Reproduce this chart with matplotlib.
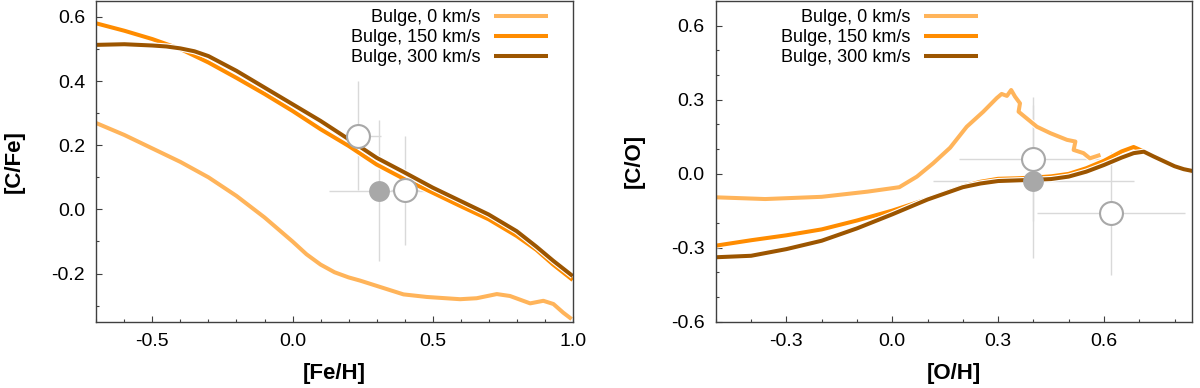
import matplotlib
matplotlib.use("Agg")
import matplotlib.pyplot as plt
import matplotlib.patheffects as pe
from matplotlib.ticker import MultipleLocator, FormatStrFormatter
from matplotlib import rcParams
rcParams['font.family'] = ['Liberation Sans', 'DejaVu Sans']

#================================================================================================#
## data: left panel, [C/Fe] vs [Fe/H]
feh_0 = [-0.70, -0.60, -0.50, -0.40, -0.30, -0.20, -0.10, 0.00, 0.05, 0.10, 0.15, 0.20, 0.241,
         0.313, 0.396, 0.479, 0.598, 0.657, 0.729, 0.776, 0.848, 0.895, 0.931, 0.966, 0.996]
cfe_0 = [0.269, 0.232, 0.190, 0.148, 0.100, 0.042, -0.025, -0.100, -0.140, -0.172, -0.196, -0.212,
         -0.222, -0.242, -0.265, -0.273, -0.280, -0.277, -0.264, -0.270, -0.293, -0.285, -0.295,
         -0.322, -0.342]

feh_150 = [-0.70, -0.60, -0.50, -0.40, -0.30, -0.20, -0.10, 0.00, 0.10, 0.20, 0.30, 0.40, 0.50,
           0.60, 0.70, 0.80, 0.87, 0.93, 1.00]
cfe_150 = [0.580, 0.557, 0.531, 0.500, 0.458, 0.410, 0.360, 0.307, 0.250, 0.198, 0.140, 0.094,
           0.052, 0.010, -0.031, -0.083, -0.126, -0.172, -0.220]

feh_300 = [-0.70, -0.60, -0.50, -0.45, -0.40, -0.35, -0.30, -0.20, -0.10, 0.00, 0.10, 0.20, 0.30,
           0.40, 0.50, 0.60, 0.70, 0.80, 0.87, 0.93, 1.00]
cfe_300 = [0.513, 0.515, 0.511, 0.508, 0.502, 0.493, 0.478, 0.432, 0.380, 0.328, 0.276, 0.219,
           0.161, 0.115, 0.068, 0.026, -0.016, -0.068, -0.116, -0.160, -0.208]

## observed stars, left panel
obs_feh = [0.232, 0.402]
obs_cfe = [0.229, 0.060]
obs_feh_err = [0.085, 0.05]
obs_cfe_err = [0.17, 0.17]
fill_feh = [0.310]
fill_cfe = [0.058]
fill_feh_err = [0.18]
fill_cfe_err = [0.22]

## data: right panel, [C/O] vs [O/H]
oh_0 = [-0.50, -0.36, -0.20, -0.07, 0.02, 0.07, 0.116, 0.164, 0.211, 0.258, 0.296, 0.310, 0.325,
        0.337, 0.348, 0.362, 0.358, 0.381, 0.410, 0.448, 0.495, 0.519, 0.514, 0.542, 0.560, 0.590]
co_0 = [-0.096, -0.103, -0.094, -0.073, -0.055, -0.012, 0.042, 0.105, 0.190, 0.251, 0.306, 0.323,
        0.315, 0.339, 0.312, 0.285, 0.251, 0.224, 0.190, 0.164, 0.137, 0.130, 0.096, 0.083, 0.062,
        0.076]

oh_150 = [-0.50, -0.40, -0.30, -0.20, -0.10, 0.00, 0.10, 0.20, 0.25, 0.30, 0.35, 0.40, 0.45, 0.50,
          0.55, 0.60, 0.65, 0.684, 0.703, 0.75, 0.80, 0.86]
co_150 = [-0.292, -0.270, -0.250, -0.226, -0.190, -0.150, -0.103, -0.052, -0.033, -0.021, -0.019,
          -0.016, -0.011, -0.001, 0.022, 0.052, 0.090, 0.108, 0.096, 0.065, 0.030, 0.003]

oh_300 = [-0.50, -0.40, -0.30, -0.20, -0.10, 0.00, 0.10, 0.20, 0.25, 0.30, 0.40, 0.45, 0.50, 0.55,
          0.60, 0.65, 0.684, 0.713, 0.74, 0.77, 0.80, 0.826, 0.86]
co_300 = [-0.339, -0.333, -0.306, -0.272, -0.222, -0.165, -0.105, -0.055, -0.040, -0.030, -0.025,
          -0.022, -0.012, 0.008, 0.035, 0.065, 0.083, 0.089, 0.070, 0.050, 0.030, 0.018, 0.008]

## observed stars, right panel
obs_oh = [0.40, 0.62]
obs_co = [0.060, -0.161]
obs_oh_err = [0.21, 0.21]
obs_co_err = [0.25, 0.25]
fill_oh = [0.40]
fill_co = [-0.030]
fill_oh_err = [0.284]
fill_co_err = [0.31]

labels = ["Bulge, 0 km/s", "Bulge, 150 km/s", "Bulge, 300 km/s"]
#================================================================================================#
## plot parameters
colors = ['#ffb45a', '#ff8c00', '#9c5500']
lw_curve = 2.9
err_color = '#d9d9d9'
circ_color = '#a8a8a8'
spine_color = '#404040'
fig_dpi = 100

#================================================================================================#
def style_axes(ax, xlim, ylim, xmaj, ymaj, xlabel, ylabel, ylabx):
    ax.set_xlim(*xlim)
    ax.set_ylim(*ylim)
    ax.xaxis.set_major_locator(MultipleLocator(xmaj))
    ax.xaxis.set_minor_locator(MultipleLocator(0.1))
    ax.yaxis.set_major_locator(MultipleLocator(ymaj))
    ax.yaxis.set_minor_locator(MultipleLocator(0.1))
    ax.xaxis.set_major_formatter(FormatStrFormatter('%.1f'))
    ax.yaxis.set_major_formatter(FormatStrFormatter('%.1f'))
    ax.tick_params(which='both', direction='in', top=False, right=False,
                   color=spine_color, width=0.8, labelsize=14, pad=8)
    ax.tick_params(which='major', length=4)
    ax.tick_params(which='minor', length=2.5)
    for s in ax.spines.values():
        s.set_color(spine_color)
        s.set_linewidth(1.0)
    ax.set_xlabel(xlabel, fontsize=16, fontweight='bold')
    ax.set_ylabel(ylabel, fontsize=16, fontweight='bold')
    ax.xaxis.set_label_coords(0.5, -0.129)
    ax.yaxis.set_label_coords(ylabx, 0.5)


def draw_panel(ax, curves, obs, fill, legx):
    stroke = [pe.Stroke(linewidth=lw_curve + 1.6, foreground='white'), pe.Normal()]
    # error bars first, under the curves
    ox, oy, oxe, oye = obs
    fx, fy, fxe, fye = fill
    ax.errorbar(ox, oy, xerr=oxe, yerr=oye, fmt='none', ecolor=err_color, elinewidth=1.0,
                capsize=0, zorder=1)
    ax.errorbar(fx, fy, xerr=fxe, yerr=fye, fmt='none', ecolor=err_color, elinewidth=1.0,
                capsize=0, zorder=1)
    for (x, y), c, lab in zip(curves, colors, labels):
        ax.plot(x, y, color=c, lw=lw_curve, label=lab, path_effects=stroke,
                solid_capstyle='butt', solid_joinstyle='round', zorder=2)
    ax.plot(fx, fy, 'o', ms=15, mfc=circ_color, mec='none', zorder=5)
    ax.plot(ox, oy, 'o', ms=16.5, mfc='white', mec=circ_color, mew=1.5, zorder=5)
    leg = ax.legend(loc='upper right', bbox_to_anchor=(legx, 0.975), frameon=False,
                    markerfirst=False, fontsize=13, handlelength=3.0, handletextpad=0.75,
                    labelspacing=0.18, borderpad=0, borderaxespad=0)
    for h in leg.legend_handles:
        h.set_path_effects([])


fig = plt.figure(figsize=(12, 3.88), dpi=fig_dpi)
ax1 = fig.add_axes([0.0803, 0.171, 0.397, 0.8266])
ax2 = fig.add_axes([0.5965, 0.171, 0.397, 0.8266])

draw_panel(ax1, [(feh_0, cfe_0), (feh_150, cfe_150), (feh_300, cfe_300)],
           (obs_feh, obs_cfe, obs_feh_err, obs_cfe_err),
           (fill_feh, fill_cfe, fill_feh_err, fill_cfe_err), 0.948)
style_axes(ax1, (-0.7, 1.0), (-0.35, 0.65), 0.5, 0.2, "[Fe/H]", "[C/Fe]", -0.150)

draw_panel(ax2, [(oh_0, co_0), (oh_150, co_150), (oh_300, co_300)],
           (obs_oh, obs_co, obs_oh_err, obs_co_err),
           (fill_oh, fill_co, fill_oh_err, fill_co_err), 0.550)
style_axes(ax2, (-0.5, 0.85), (-0.6, 0.7), 0.3, 0.3, "[O/H]", "[C/O]", -0.149)

plt.savefig("out.png", dpi=fig_dpi)
